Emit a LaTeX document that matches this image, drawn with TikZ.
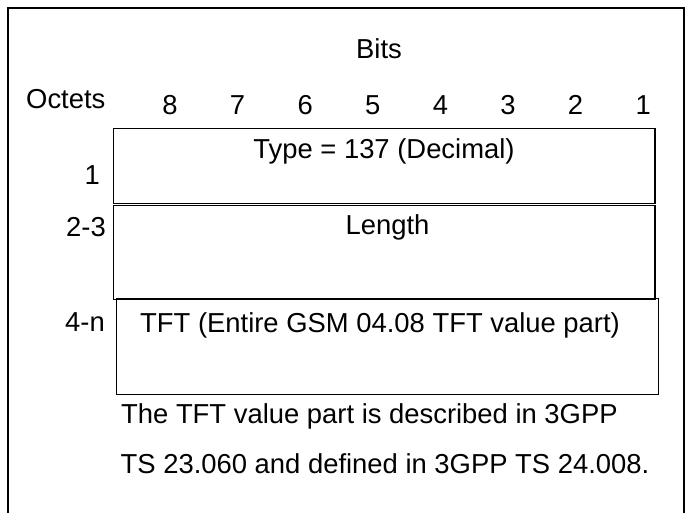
\documentclass[tikz,border=0pt]{standalone}
\usepackage{fontspec}
\setmainfont{Liberation Sans}
\begin{document}
\begin{tikzpicture}[x=1pt,y=-1pt,
  lbl/.style={inner sep=0pt, font=\fontsize{27.4}{30}\selectfont},
  fieldbox/.style={draw=black, line width=1.1pt},
  frame/.style={draw=black, line width=2pt}]
\useasboundingbox (0,0) rectangle (686,513);
% outer frame (bottom edge outside the picture)
\draw[frame] (7.5,520) -- (7.5,8.5) -- (684,8.5) -- (684,520);
% header
\node[lbl, anchor=base] (bits) at (379,58.3) {Bits};
\node[lbl, anchor=base west] (octets) at (26,109) {Octets};
\foreach \b [count=\i from 0] in {8,7,6,5,4,3,2,1}
  \node[lbl, anchor=base] (bit\b) at (170+67.6*\i,115) {\b};
% field boxes
\draw[fieldbox] (113.5,128.3) rectangle (655,203.5);
\draw[fieldbox] (113.5,205.5) rectangle (655,299.5);
\draw[fieldbox] (116.7,298.3) rectangle (658.3,394.3);
% field texts
\node[lbl, anchor=base] (type) at (384,158.3) {Type = 137 (Decimal)};
\node[lbl, anchor=base] (length) at (387.5,235) {Length};
\node[lbl, anchor=base west] (tft) at (140,333) {TFT (Entire GSM 04.08 TFT value part)};
% octet labels
\node[lbl, anchor=base east] (o1) at (100,185) {1};
\node[lbl, anchor=base east] (o23) at (106,236.7) {2-3};
\node[lbl, anchor=base east] (o4n) at (105,332) {4-n};
% note
\node[lbl, anchor=base west] (note1) at (121,423.3) {The TFT value part is described in 3GPP};
\node[lbl, anchor=base west] (note2) at (120.5,473.3) {TS 23.060 and defined in 3GPP TS 24.008.};
\end{tikzpicture}
\end{document}
